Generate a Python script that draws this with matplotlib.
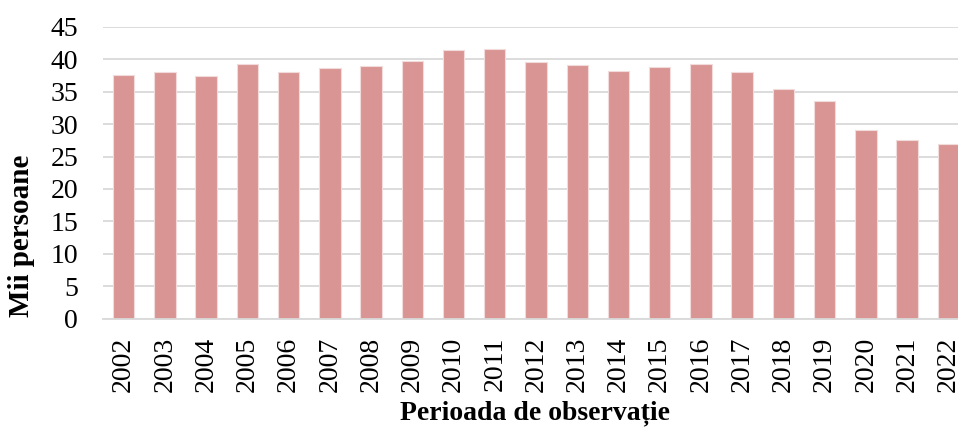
import matplotlib
matplotlib.use('Agg')
import matplotlib.pyplot as plt
import numpy as np

# data
years = ['2002', '2003', '2004', '2005', '2006', '2007', '2008', '2009', '2010',
         '2011', '2012', '2013', '2014', '2015', '2016', '2017', '2018', '2019',
         '2020', '2021', '2022']
values = [37.6, 38.1, 37.4, 39.3, 38.0, 38.6, 39.0, 39.8, 41.5,
          41.6, 39.6, 39.2, 38.2, 38.9, 39.3, 38.1, 35.4, 33.6,
          29.1, 27.6, 27.0]
yticks = [0, 5, 10, 15, 20, 25, 30, 35, 40, 45]

plt.rcParams['font.family'] = ['Liberation Serif', 'DejaVu Serif']

fig = plt.figure(figsize=(9.58, 4.30), dpi=100)
ax = fig.add_axes([103 / 958, 1 - 318.5 / 430, 866 / 958, 291.5 / 430])

x = np.arange(len(years))
ax.bar(x, values, width=0.52, color='#D99594', edgecolor='#F2DCDB',
       linewidth=0.8, zorder=2)

ax.set_xlim(-0.5, len(years) - 0.5)
ax.set_ylim(0, 45)
ax.set_yticks(yticks)
ax.set_xticks(x)
ax.set_xticklabels(years, rotation=90)
ax.grid(axis='y', color='#D9D9D9', linewidth=1.3, zorder=0)
ax.set_axisbelow(True)

for s in ['top', 'right', 'left']:
    ax.spines[s].set_visible(False)
ax.spines['bottom'].set_color('#D9D9D9')
ax.spines['bottom'].set_linewidth(1.3)

ax.tick_params(axis='y', length=0, pad=18, labelsize=20)
ax.tick_params(axis='x', length=0, pad=13, labelsize=20)

# axis titles placed by hand, like the original
fig.text(22 / 958, 1 - 236 / 430, 'Mii persoane', fontsize=21, fontweight='bold',
         rotation=90, ha='center', va='center')
fig.text(535 / 958, 1 - 413 / 430, 'Perioada de observație', fontsize=20,
         fontweight='bold', ha='center', va='center')

fig.savefig('out.png', dpi=100)
